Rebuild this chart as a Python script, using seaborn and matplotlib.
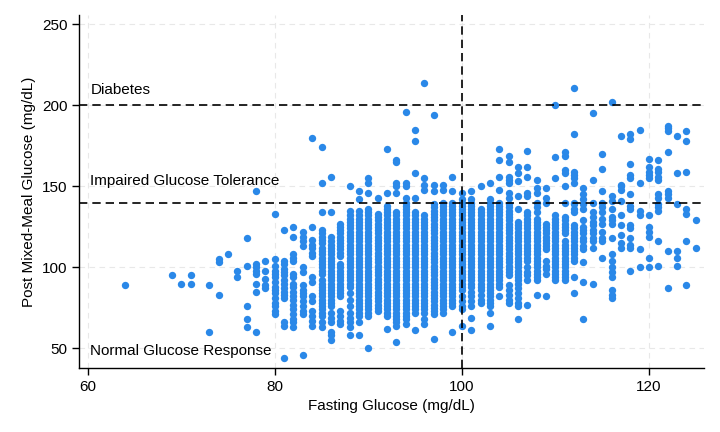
import matplotlib
matplotlib.use("Agg")
import matplotlib.pyplot as plt
import numpy as np
import pandas as pd
import seaborn as sns

# post-meal glucose readings, one list per fasting glucose level (mg/dL)
pm_064 = [89]
pm_069 = [95]
pm_070 = [90]
pm_071 = [90, 95]
pm_073 = [60, 89]
pm_074 = [83, 103, 105]
pm_075 = [108]
pm_076 = [94, 98]
pm_077 = [63, 68, 76, 101, 118]
pm_078 = [60, 85, 90, 96, 98, 100, 102, 147]
pm_079 = [87, 89, 93, 98, 104]
pm_080 = [71, 73, 76, 78, 81, 84, 86, 88, 91, 94, 96, 98, 101, 105, 133]
pm_081 = [44, 64, 66, 81, 83, 85, 87, 90, 92, 95, 97, 99, 102, 104, 123]
pm_082 = [63, 66, 68, 71, 74, 77, 80, 82, 85, 88, 90, 94, 96, 104, 106, 108, 119, 125]
pm_083 = [46, 71, 73, 76, 79, 82, 84, 86, 89, 97, 100, 113, 116, 119, 122]
pm_084 = [64, 67, 70, 73, 79, 82, 91, 94, 107, 109, 112, 114, 117, 125, 180]
pm_085 = [63, 66, 70, 72, 74, 76, 78, 80, 82, 84, 86, 88, 90, 92, 96, 98, 100,
          102, 104, 106, 108, 110, 112, 115, 117, 119, 121, 123, 134, 152, 174]
pm_086 = [55, 58, 60, 66, 69, 72, 76, 78, 80, 82, 84, 86, 88, 90, 92, 94, 96,
          98, 100, 102, 104, 106, 108, 110, 112, 114, 116, 119, 134, 156]
pm_087 = [65, 67, 70, 73, 82, 84, 86, 88, 90, 92, 94, 96, 98, 100, 102, 107,
          109, 111, 113, 115, 117, 119, 121, 123, 125, 127]
pm_088 = [58, 63, 66, 69, 72, 76, 80, 84, 88, 90, 92, 94, 96, 98, 100, 102, 104,
          106, 108, 110, 112, 114, 116, 118, 120, 122, 124, 126, 128, 130, 132,
          135, 150]
pm_089 = [58, 66, 70, 72, 74, 76, 78, 80, 82, 84, 86, 88, 90, 92, 94, 96, 98,
          100, 102, 104, 106, 108, 110, 112, 114, 116, 118, 120, 122, 124, 126,
          128, 130, 132, 135, 142, 147]
pm_090 = [50, 70, 72, 74, 76, 78, 80, 82, 84, 86, 88, 90, 92, 94, 96, 98, 100,
          102, 104, 106, 108, 110, 112, 114, 116, 118, 120, 122, 124, 126, 128,
          130, 132, 134, 136, 146, 152, 155]
pm_091 = [73, 75, 77, 79, 81, 83, 85, 87, 89, 91, 93, 95, 97, 99, 101, 103, 105,
          107, 109, 111, 113, 115, 117, 119, 121, 123, 125, 127, 129, 131, 133, 143]
pm_092 = [62, 70, 72, 74, 76, 78, 80, 82, 84, 86, 88, 90, 92, 94, 96, 98, 100,
          102, 104, 106, 108, 110, 112, 114, 116, 118, 120, 122, 124, 126, 128,
          130, 132, 134, 136, 138, 146, 173]
pm_093 = [54, 64, 66, 68, 70, 72, 74, 76, 78, 80, 82, 84, 86, 88, 90, 92, 94, 96,
          98, 100, 102, 104, 106, 108, 110, 112, 114, 116, 118, 120, 122, 124,
          126, 128, 130, 132, 134, 146, 150, 152, 165, 166]
pm_094 = [65, 68, 70, 72, 74, 76, 78, 80, 82, 84, 86, 88, 90, 92, 94, 96, 98,
          100, 102, 104, 106, 108, 110, 112, 114, 116, 118, 120, 122, 124, 126,
          128, 130, 132, 134, 136, 138, 140, 143, 150, 152, 196]
pm_095 = [61, 72, 74, 76, 78, 80, 82, 84, 86, 88, 90, 92, 94, 96, 98, 100, 102,
          104, 106, 108, 110, 112, 114, 116, 118, 120, 122, 124, 126, 128, 130,
          132, 134, 143, 158, 178, 185]
pm_096 = [65, 68, 72, 74, 76, 78, 80, 82, 84, 86, 88, 90, 92, 94, 96, 98, 100,
          102, 104, 106, 108, 110, 112, 114, 116, 118, 120, 122, 124, 126, 128,
          130, 132, 148, 151, 155, 214]
pm_097 = [56, 71, 73, 75, 77, 79, 81, 83, 85, 87, 89, 91, 93, 95, 97, 99, 101,
          103, 105, 107, 109, 111, 113, 115, 117, 119, 121, 123, 125, 127, 129,
          131, 133, 135, 137, 139, 147, 151, 194]
pm_098 = [72, 74, 76, 78, 80, 82, 84, 86, 88, 90, 92, 94, 96, 98, 100, 102, 104,
          106, 108, 110, 112, 114, 116, 118, 120, 122, 124, 126, 128, 130, 132,
          134, 136, 138, 140, 148, 151]
pm_099 = [60, 76, 78, 80, 82, 84, 86, 88, 90, 92, 94, 96, 98, 100, 102, 104, 106,
          108, 110, 112, 114, 116, 118, 120, 122, 124, 126, 128, 130, 132, 134,
          136, 138, 140, 147, 156]
pm_100 = [64, 74, 76, 79, 82, 86, 88, 90, 92, 94, 96, 98, 100, 102, 104, 106,
          108, 110, 112, 114, 116, 118, 120, 122, 124, 126, 128, 130, 132, 134,
          136, 138, 140, 142, 146]
pm_101 = [61, 69, 76, 79, 82, 85, 88, 90, 92, 94, 96, 98, 100, 102, 104, 106,
          108, 110, 112, 114, 116, 118, 120, 122, 124, 126, 128, 130, 132, 134,
          136, 138, 140, 142, 147]
pm_102 = [78, 80, 83, 86, 88, 90, 92, 94, 96, 98, 100, 102, 104, 106, 108, 110,
          112, 114, 116, 118, 120, 122, 124, 126, 128, 130, 132, 134, 136, 150]
pm_103 = [64, 72, 76, 78, 80, 82, 84, 86, 88, 90, 92, 94, 96, 98, 100, 102, 104,
          106, 108, 110, 112, 114, 116, 118, 120, 122, 124, 126, 128, 130, 132,
          134, 136, 138, 140, 142, 152]
pm_104 = [82, 88, 90, 92, 94, 96, 98, 100, 102, 104, 106, 108, 110, 112, 114,
          116, 118, 120, 122, 124, 126, 128, 130, 132, 134, 136, 138, 140, 148,
          156, 166, 173]
pm_105 = [78, 80, 83, 86, 89, 95, 97, 99, 101, 103, 105, 107, 109, 111, 113, 115,
          117, 119, 121, 123, 125, 127, 129, 131, 133, 135, 137, 139, 143, 146,
          152, 154, 156, 165, 169]
pm_106 = [68, 76, 78, 81, 84, 87, 90, 92, 94, 96, 98, 100, 102, 104, 106, 108,
          110, 112, 114, 116, 118, 120, 122, 124, 126, 128, 136, 144, 153, 158, 162]
pm_107 = [77, 92, 95, 97, 100, 104, 106, 108, 110, 112, 114, 116, 118, 120, 122,
          124, 126, 128, 130, 132, 134, 144, 146, 156, 162, 172]
pm_108 = [83, 92, 94, 96, 98, 100, 102, 104, 106, 108, 110, 112, 114, 116, 118,
          120, 122, 124, 126, 128, 130, 134, 137, 140, 146, 149, 154]
pm_109 = [82, 96, 99, 101, 104, 111, 113, 115, 117, 119, 121, 123, 125, 127, 140,
          143, 149]
pm_110 = [92, 94, 96, 98, 100, 102, 104, 106, 108, 110, 112, 114, 116, 118, 120,
          122, 124, 126, 128, 130, 132, 155, 168, 200]
pm_111 = [92, 94, 96, 98, 100, 102, 104, 106, 108, 110, 112, 114, 116, 121, 123,
          125, 127, 129, 131, 140, 150, 158, 160, 169, 171]
pm_112 = [84, 94, 104, 106, 108, 110, 112, 114, 116, 118, 120, 122, 124, 126,
          134, 136, 139, 140, 152, 155, 157, 159, 182, 211]
pm_113 = [68, 91, 103, 111, 113, 116, 118, 121, 123, 125, 129, 136, 139, 142,
          145, 149]
pm_114 = [90, 112, 116, 118, 121, 123, 126, 128, 131, 134, 140, 154, 195]
pm_115 = [106, 116, 118, 122, 127, 130, 134, 137, 140, 147, 161, 170]
pm_116 = [81, 83, 86, 94, 97, 100, 104, 108, 118, 127, 129, 131, 136, 141, 144, 202]
pm_117 = [112, 115, 120, 126, 132, 141, 148, 150, 151, 181]
pm_118 = [98, 112, 114, 118, 124, 126, 136, 138, 145, 155, 157, 164, 179, 182]
pm_119 = [100, 111, 132, 135, 152, 185]
pm_120 = [100, 106, 119, 122, 125, 132, 155, 157, 159, 162, 167]
pm_121 = [101, 116, 135, 137, 139, 143, 145, 154, 156, 159, 161, 166]
pm_122 = [87, 110, 143, 145, 147, 171, 184, 186, 187]
pm_123 = [101, 106, 110, 139, 158, 181]
pm_124 = [89, 116, 133, 136, 159, 178, 184]
pm_125 = [112, 129]

fasting_levels = [64, 69, 70, 71, 73, 74, 75, 76, 77, 78, 79, 80, 81, 82, 83, 84,
                  85, 86, 87, 88, 89, 90, 91, 92, 93, 94, 95, 96, 97, 98, 99, 100,
                  101, 102, 103, 104, 105, 106, 107, 108, 109, 110, 111, 112, 113,
                  114, 115, 116, 117, 118, 119, 120, 121, 122, 123, 124, 125]
post_meal = [pm_064, pm_069, pm_070, pm_071, pm_073, pm_074, pm_075, pm_076,
             pm_077, pm_078, pm_079, pm_080, pm_081, pm_082, pm_083, pm_084,
             pm_085, pm_086, pm_087, pm_088, pm_089, pm_090, pm_091, pm_092,
             pm_093, pm_094, pm_095, pm_096, pm_097, pm_098, pm_099, pm_100,
             pm_101, pm_102, pm_103, pm_104, pm_105, pm_106, pm_107, pm_108,
             pm_109, pm_110, pm_111, pm_112, pm_113, pm_114, pm_115, pm_116,
             pm_117, pm_118, pm_119, pm_120, pm_121, pm_122, pm_123, pm_124,
             pm_125]

rows = [(f, v) for f, vals in zip(fasting_levels, post_meal) for v in vals]
df = pd.DataFrame(rows, columns=["fasting", "post_meal"])

sns.set_theme(style="ticks")
plt.rcParams["font.family"] = ["Liberation Sans", "DejaVu Sans"]
plt.rcParams["text.color"] = "black"
plt.rcParams["axes.labelcolor"] = "black"
plt.rcParams["xtick.color"] = "black"
plt.rcParams["ytick.color"] = "black"

fig = plt.figure(figsize=(7.2, 4.32), dpi=100)
ax = fig.add_axes([0.11, 0.148, 0.868, 0.817])

ax.grid(True, color="#e8e8e8", linestyle=(0, (5, 4)), linewidth=0.8)
ax.set_axisbelow(True)

sns.scatterplot(data=df, x="fasting", y="post_meal", ax=ax, color="#2a88e8",
                s=28, linewidth=0, alpha=1, zorder=3)

dash = (0, (5, 3))
ax.axhline(200, color="black", linestyle=dash, linewidth=1.2, zorder=4)
ax.axhline(140, color="black", linestyle=dash, linewidth=1.2, zorder=4)
ax.axvline(100, color="black", linestyle=dash, linewidth=1.2, zorder=4)

ax.text(60.3, 205, "Diabetes", fontsize=11, va="bottom", ha="left")
ax.text(60.3, 149, "Impaired Glucose Tolerance", fontsize=11, va="bottom", ha="left")
ax.text(60.3, 48.5, "Normal Glucose Response", fontsize=11, va="center", ha="left")

ax.set_xlim(59.1, 125.9)
ax.set_ylim(37.8, 255.7)
ax.set_xticks([60, 80, 100, 120])
ax.set_yticks([50, 100, 150, 200, 250])
ax.tick_params(labelsize=11, length=5, width=1, color="black", labelcolor="black")
ax.set_xlabel("Fasting Glucose (mg/dL)", fontsize=11)
ax.set_ylabel("Post Mixed-Meal Glucose (mg/dL)", fontsize=11)
sns.despine(ax=ax)
for sp in ["left", "bottom"]:
    ax.spines[sp].set_color("black")
    ax.spines[sp].set_linewidth(1)

fig.savefig("out.png", dpi=100)
